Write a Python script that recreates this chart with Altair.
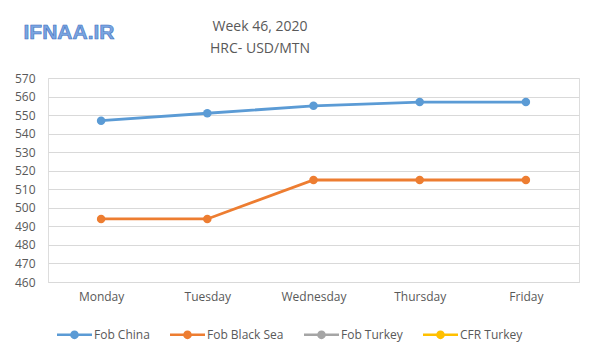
import altair as alt
import pandas as pd

days = ["Monday", "Tuesday", "Wednesday", "Thursday", "Friday"]
series_names = ["Fob China", "Fob Black Sea", "Fob Turkey", "CFR Turkey"]
series_colors = ["#5B9BD5", "#ED7D31", "#A5A5A5", "#FFC000"]
fob_china = [547, 551, 555, 557, 557]
fob_black_sea = [494, 494, 515, 515, 515]
y_ticks = [460, 470, 480, 490, 500, 510, 520, 530, 540, 550, 560, 570]
title_lines = ["Week 46, 2020", "HRC- USD/MTN"]

rows = []
for d, v in zip(days, fob_china):
    rows.append({"day": d, "series": "Fob China", "price": v})
for d, v in zip(days, fob_black_sea):
    rows.append({"day": d, "series": "Fob Black Sea", "price": v})
df = pd.DataFrame(rows)

FONT = "Open Sans"
TXT = "#595959"

legend_symbol = ("M-1,-0.075H-0.24V0.075H-1Z M0.24,-0.075H1V0.075H0.24Z "
                 "M0.25,0A0.25,0.25 0 1,1 -0.25,0A0.25,0.25 0 1,1 0.25,0Z")

color = alt.Color(
    "series:N",
    scale=alt.Scale(domain=series_names, range=series_colors),
    legend=alt.Legend(
        title=None, orient="none", direction="horizontal",
        legendX=9, legendY=239,
        symbolType=legend_symbol, symbolSize=1225, symbolStrokeWidth=0,
        labelFont=FONT, labelFontSize=12, labelColor=TXT,
        labelOffset=2, columnPadding=20,
    ),
)

x = alt.X("day:N", sort=days, title=None,
          scale=alt.Scale(type="point", padding=0.5),
          axis=alt.Axis(labelAngle=0, labelFont=FONT, labelFontSize=12,
                        labelColor=TXT, labelPadding=9, ticks=False,
                        domainColor="#D9D9D9", grid=False))
y = alt.Y("price:Q", title=None,
          scale=alt.Scale(domain=[460, 570], nice=False, zero=False),
          axis=alt.Axis(values=y_ticks, labelFont=FONT, labelFontSize=12,
                        labelColor=TXT, labelPadding=13, ticks=False,
                        domain=False, gridColor="#D9D9D9", gridWidth=1))

lines = alt.Chart(df).mark_line(strokeWidth=2.8).encode(
    x=x, y=y, color=color, detail="series:N")
points = alt.Chart(df).mark_point(filled=True, size=72, opacity=1).encode(
    x=x, y=y, color=alt.Color("series:N", scale=alt.Scale(domain=series_names, range=series_colors), legend=None))

logo = alt.Chart(pd.DataFrame({"t": ["IFNAA.IR"]})).mark_text(
    font="Liberation Sans", fontSize=21, fontWeight="bold",
    fill="#7AA5E0", stroke="#3C6FC0", strokeWidth=0.6,
    align="center", baseline="middle",
).encode(text="t:N", x=alt.value(21), y=alt.value(-45))

title1 = alt.Chart(pd.DataFrame({"t": [title_lines[0]]})).mark_text(
    font=FONT, fontSize=14, color=TXT, align="center", baseline="middle",
).encode(text="t:N", x=alt.value(212), y=alt.value(-51))
title2 = alt.Chart(pd.DataFrame({"t": [title_lines[1]]})).mark_text(
    font=FONT, fontSize=14, color=TXT, align="center", baseline="middle",
).encode(text="t:N", x=alt.value(212), y=alt.value(-29))

chart = alt.layer(lines, points, logo, title1, title2).properties(
    width=531, height=204,
    padding={"left": 40, "top": 70, "right": 13, "bottom": 71},
    autosize=alt.AutoSizeParams(type="none"),
).configure_view(stroke=None).configure(background="white")

chart.save("out.html", embed_options={"renderer": "svg", "actions": False})
